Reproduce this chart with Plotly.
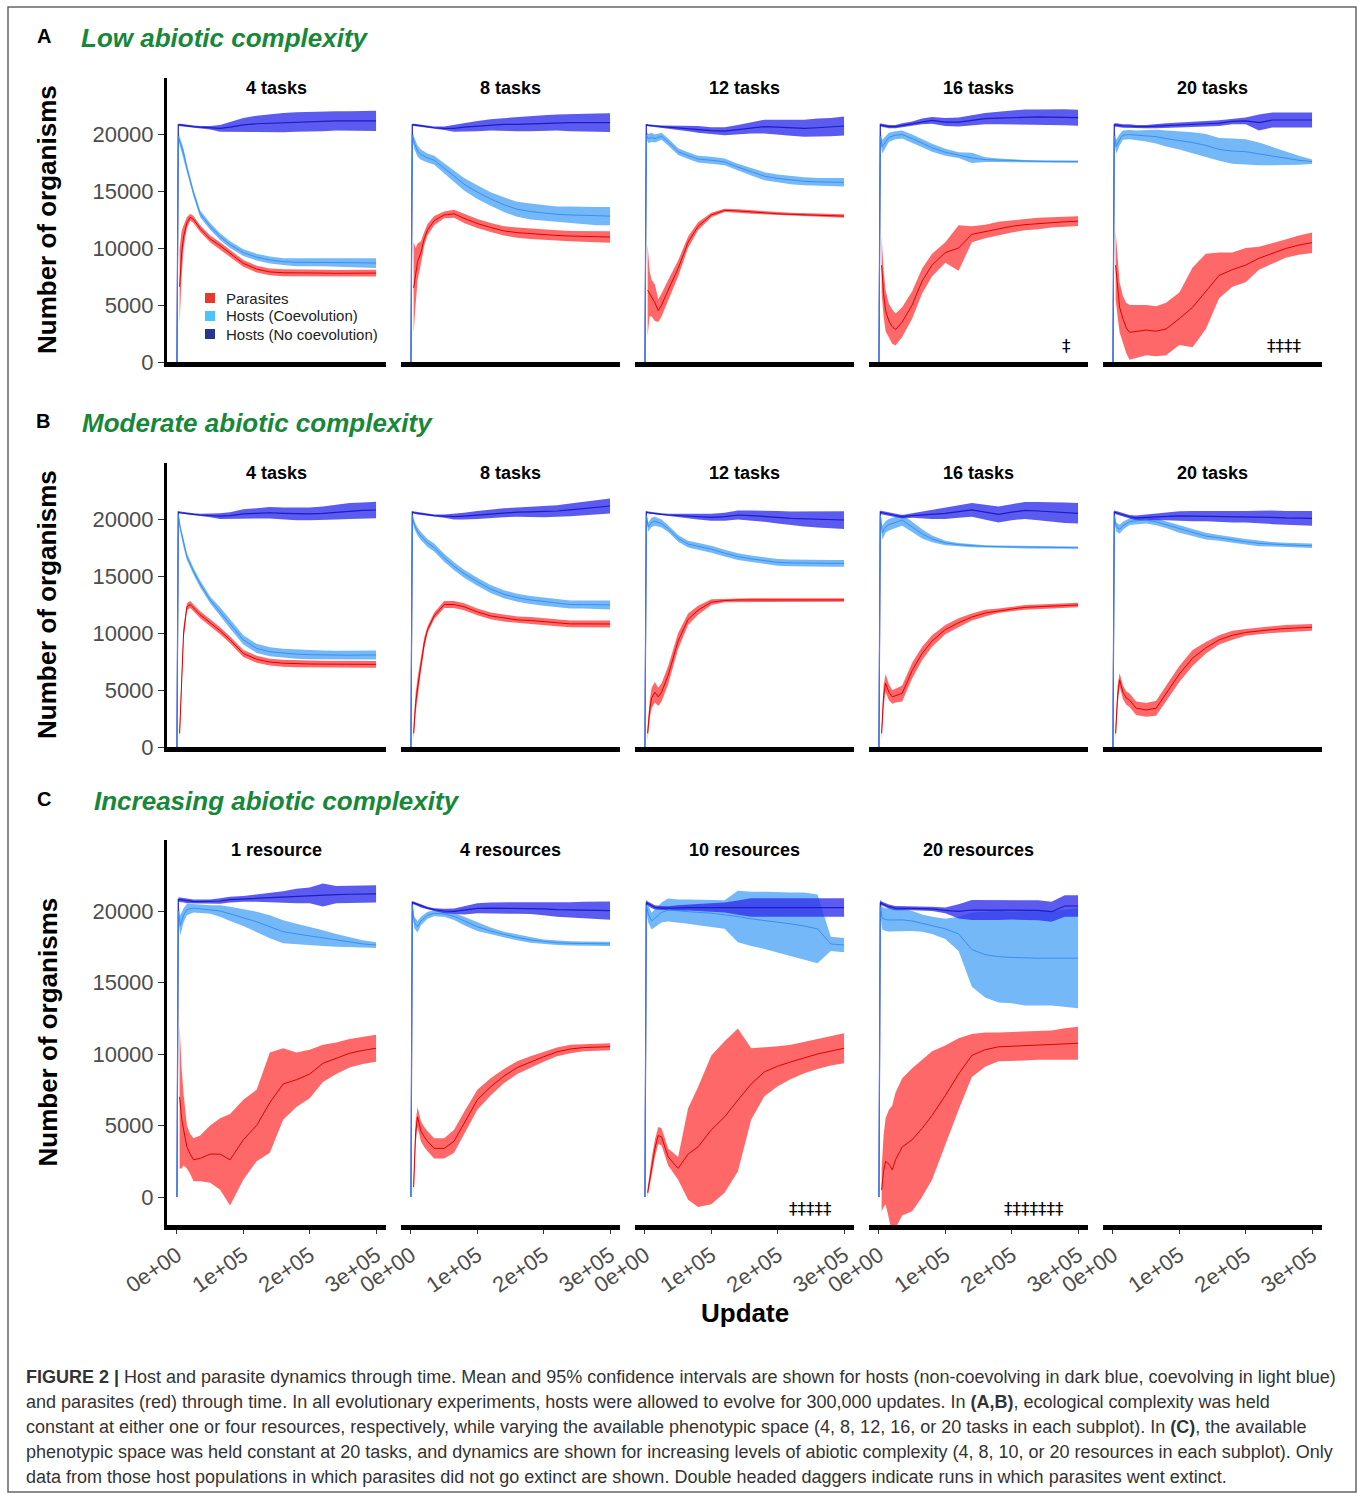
import plotly.graph_objects as go

# ---------------- DATA (updates in thousands; values = number of organisms) -------------
HOST_UPDATES = [0, 2, 5, 10, 15, 25, 35, 50, 65, 80, 100, 120, 140, 160, 180, 200, 220, 240, 260, 280, 300]
PARA_UPDATES = [4, 7, 10, 15, 20, 25, 35, 50, 65, 80, 100, 120, 140, 160, 180, 200, 220, 240, 260, 280, 300]

X_TICKS = [0, 100000, 200000, 300000]
X_TICK_LABELS = ["0e+00", "1e+05", "2e+05", "3e+05"]
Y_TICKS = [0, 5000, 10000, 15000, 20000]
Y_TICK_LABELS = ["0", "5000", "10000", "15000", "20000"]

ROW_TITLES = ["Low abiotic complexity", "Moderate abiotic complexity", "Increasing abiotic complexity"]
ROW_LETTERS = ["A", "B", "C"]
PANEL_TITLES_A = ["4 tasks", "8 tasks", "12 tasks", "16 tasks", "20 tasks"]
PANEL_TITLES_B = ["4 tasks", "8 tasks", "12 tasks", "16 tasks", "20 tasks"]
PANEL_TITLES_C = ["1 resource", "4 resources", "10 resources", "20 resources", ""]
LEGEND_LABELS = ["Parasites", "Hosts (Coevolution)", "Hosts (No coevolution)"]

# ---- Row A ----
A1_NC = [0, 20800, 20800, 20750, 20700, 20650, 20600, 20550, 20500, 20600, 20800, 20900, 20950, 21000, 21050, 21100, 21100, 21150, 21150, 21150, 21150]
A1_NC_HW = [0, 100, 100, 100, 100, 100, 100, 150, 300, 450, 600, 700, 800, 850, 850, 850, 850, 850, 850, 850, 880]
A1_CO = [0, 19800, 19200, 18300, 17000, 14800, 13000, 11900, 11000, 10300, 9600, 9200, 8950, 8800, 8750, 8750, 8750, 8720, 8700, 8700, 8680]
A1_CO_HW = [0, 300, 400, 400, 350, 300, 300, 300, 300, 300, 300, 300, 300, 300, 350, 350, 350, 350, 400, 400, 430]
A1_PA = [6600, 9500, 11000, 12200, 12700, 12500, 11700, 10800, 10200, 9500, 8650, 8150, 7900, 7830, 7800, 7800, 7800, 7780, 7800, 7800, 7800]
A1_PA_HW = [3300, 2000, 1000, 500, 300, 300, 300, 300, 300, 300, 300, 300, 300, 300, 300, 300, 300, 300, 300, 300, 300]

A2_NC = [0, 20800, 20800, 20750, 20700, 20600, 20550, 20500, 20500, 20600, 20700, 20800, 20850, 20850, 20900, 20950, 21000, 21000, 21000, 21000, 21000]
A2_NC_HW = [0, 100, 100, 100, 100, 100, 100, 150, 300, 400, 450, 500, 550, 600, 650, 700, 700, 750, 800, 800, 830]
A2_CO = [0, 19900, 19200, 18500, 18200, 17900, 17700, 17000, 16300, 15600, 14900, 14300, 13800, 13400, 13200, 13050, 12950, 12900, 12850, 12800, 12800]
A2_CO_HW = [0, 400, 500, 500, 450, 400, 400, 450, 500, 550, 600, 600, 650, 650, 700, 700, 700, 750, 750, 800, 800]
A2_PA = [6500, 7500, 8800, 9600, 10800, 11600, 12400, 12900, 13000, 12600, 12150, 11800, 11500, 11350, 11250, 11150, 11100, 11050, 11000, 11000, 10960]
A2_PA_HW = [4000, 2500, 1600, 1000, 600, 500, 400, 300, 350, 400, 400, 400, 400, 450, 450, 450, 450, 450, 500, 500, 500]

A3_NC = [0, 20800, 20750, 20700, 20700, 20650, 20600, 20550, 20500, 20400, 20300, 20250, 20400, 20550, 20650, 20600, 20550, 20500, 20550, 20600, 20700]
A3_NC_HW = [0, 100, 100, 100, 100, 100, 150, 200, 250, 300, 300, 350, 400, 500, 600, 650, 700, 750, 800, 800, 830]
A3_CO = [0, 19900, 19600, 19700, 19600, 19800, 19300, 18450, 18100, 17800, 17700, 17550, 17100, 16700, 16300, 16100, 15950, 15850, 15800, 15780, 15760]
A3_CO_HW = [0, 300, 400, 400, 350, 300, 300, 300, 300, 300, 300, 300, 300, 350, 350, 350, 350, 350, 350, 370, 370]
A3_PA = [6300, 6000, 5600, 5200, 4500, 5000, 6300, 8200, 10500, 11900, 12900, 13300, 13250, 13150, 13050, 13000, 12950, 12900, 12850, 12850, 12800]
A3_PA_HW = [4000, 2000, 1600, 1600, 1000, 1000, 900, 700, 500, 350, 200, 150, 150, 150, 150, 150, 150, 150, 150, 150, 150]

A4_NC = [0, 20800, 20750, 20700, 20650, 20650, 20750, 20900, 21100, 21200, 21050, 21050, 21200, 21350, 21400, 21450, 21500, 21500, 21480, 21460, 21430]
A4_NC_HW = [0, 150, 150, 150, 150, 150, 200, 200, 250, 300, 350, 400, 450, 500, 550, 600, 650, 650, 700, 700, 700]
A4_CO = [0, 19800, 18900, 19300, 19700, 19900, 19950, 19600, 19180, 18800, 18400, 18150, 17900, 17750, 17700, 17650, 17620, 17600, 17580, 17570, 17570]
A4_CO_HW = [0, 500, 600, 500, 400, 350, 350, 350, 350, 350, 300, 250, 450, 200, 150, 120, 100, 100, 100, 100, 100]
A4_PA = [8500, 6000, 4500, 3600, 3100, 2850, 3500, 5000, 7100, 8500, 9600, 10000, 11200, 11450, 11700, 11900, 12050, 12150, 12250, 12300, 12350]
A4_PA_HW = [2500, 2000, 1800, 1500, 1500, 1400, 1300, 1200, 1100, 1000, 900, 2000, 700, 600, 600, 550, 500, 500, 450, 450, 430]

A5_NC = [0, 20800, 20800, 20750, 20700, 20700, 20650, 20650, 20700, 20750, 20800, 20850, 20900, 20950, 21100, 21150, 21000, 21230, 21230, 21230, 21230]
A5_NC_HW = [0, 150, 150, 150, 150, 150, 150, 150, 200, 200, 200, 250, 250, 250, 250, 300, 700, 650, 650, 650, 650]
A5_CO = [0, 19800, 18900, 19500, 19900, 19950, 19900, 19850, 19770, 19600, 19450, 19250, 19000, 18650, 18500, 18450, 18250, 18050, 17850, 17700, 17570]
A5_CO_HW = [0, 500, 600, 500, 400, 400, 400, 500, 600, 700, 800, 900, 1000, 1000, 1100, 1100, 1000, 800, 600, 400, 200]
A5_PA = [8500, 6500, 4800, 3800, 3000, 2600, 2700, 2800, 2700, 2900, 3800, 4800, 6200, 7600, 8100, 8500, 9100, 9500, 9950, 10250, 10470]
A5_PA_HW = [3000, 2500, 2200, 2000, 2200, 2400, 2300, 2200, 2200, 2300, 2300, 3500, 3300, 2000, 1500, 1500, 1000, 900, 800, 850, 900]

# ---- Row B ----
B1_NC = [0, 20600, 20550, 20500, 20450, 20400, 20350, 20300, 20250, 20300, 20450, 20500, 20550, 20500, 20450, 20450, 20500, 20600, 20700, 20750, 20790]
B1_NC_HW = [0, 100, 100, 100, 100, 100, 100, 150, 250, 300, 400, 450, 500, 500, 550, 550, 600, 650, 700, 700, 730]
B1_CO = [0, 20400, 19200, 17800, 16700, 15400, 14300, 12900, 11900, 10800, 9400, 8650, 8350, 8220, 8150, 8100, 8070, 8050, 8050, 8070, 8070]
B1_CO_HW = [0, 300, 300, 300, 300, 300, 300, 300, 350, 400, 400, 400, 400, 400, 400, 400, 400, 400, 400, 400, 400]
B1_PA = [1200, 6000, 10000, 12300, 12500, 12200, 11600, 10900, 10200, 9400, 8200, 7700, 7450, 7350, 7300, 7280, 7270, 7250, 7250, 7250, 7250]
B1_PA_HW = [600, 800, 600, 300, 300, 300, 300, 300, 300, 300, 300, 300, 300, 300, 300, 300, 300, 300, 300, 300, 300]

B2_NC = [0, 20600, 20550, 20500, 20450, 20350, 20300, 20250, 20200, 20250, 20350, 20450, 20550, 20600, 20620, 20650, 20700, 20800, 20900, 21000, 21140]
B2_NC_HW = [0, 100, 100, 100, 100, 100, 100, 150, 250, 300, 350, 400, 400, 400, 450, 500, 500, 550, 600, 600, 650]
B2_CO = [0, 20300, 19500, 18900, 18500, 17900, 17500, 16600, 15850, 15200, 14500, 13850, 13400, 13100, 12900, 12750, 12600, 12500, 12500, 12480, 12460]
B2_CO_HW = [0, 300, 350, 350, 350, 350, 350, 350, 350, 350, 350, 350, 350, 350, 350, 350, 350, 350, 350, 350, 400]
B2_PA = [1200, 3800, 5200, 7300, 9100, 10300, 11500, 12500, 12500, 12300, 11850, 11500, 11300, 11150, 11100, 11000, 10900, 10800, 10800, 10800, 10790]
B2_PA_HW = [600, 900, 900, 700, 500, 300, 300, 300, 300, 300, 300, 300, 300, 300, 300, 300, 300, 300, 300, 300, 300]

B3_NC = [0, 20600, 20550, 20500, 20450, 20400, 20350, 20300, 20250, 20200, 20150, 20200, 20350, 20300, 20250, 20150, 20050, 20000, 19950, 19920, 19910]
B3_NC_HW = [0, 100, 100, 100, 100, 100, 100, 150, 200, 250, 300, 350, 400, 450, 500, 550, 600, 650, 700, 750, 780]
B3_CO = [0, 20300, 19300, 19700, 19800, 19600, 19150, 18300, 17800, 17600, 17350, 17000, 16700, 16500, 16350, 16200, 16150, 16120, 16110, 16110, 16110]
B3_CO_HW = [0, 400, 400, 400, 400, 350, 300, 300, 300, 300, 300, 300, 300, 300, 300, 300, 300, 300, 300, 300, 300]
B3_PA = [1200, 3200, 4300, 4800, 4400, 4800, 6300, 9300, 11200, 12000, 12700, 12850, 12900, 12900, 12900, 12900, 12900, 12900, 12900, 12900, 12900]
B3_PA_HW = [600, 800, 900, 900, 800, 800, 800, 700, 500, 400, 250, 150, 150, 150, 150, 150, 150, 150, 150, 150, 150]

B4_NC = [0, 20600, 20550, 20500, 20400, 20300, 20200, 20300, 20350, 20400, 20500, 20650, 20800, 20600, 20400, 20600, 20750, 20700, 20650, 20550, 20500]
B4_NC_HW = [0, 150, 150, 150, 150, 150, 150, 200, 300, 400, 500, 550, 600, 650, 700, 700, 750, 800, 850, 900, 900]
B4_CO = [0, 20300, 18800, 19300, 19500, 19700, 19900, 19300, 18700, 18250, 17900, 17750, 17650, 17600, 17570, 17550, 17520, 17500, 17490, 17480, 17480]
B4_CO_HW = [0, 500, 600, 500, 500, 500, 500, 450, 400, 300, 200, 150, 120, 100, 100, 100, 100, 100, 100, 100, 100]
B4_PA = [1200, 4500, 5600, 4800, 4400, 4500, 4700, 6700, 8200, 9300, 10300, 10900, 11400, 11750, 11950, 12100, 12250, 12300, 12350, 12400, 12460]
B4_PA_HW = [600, 900, 800, 700, 600, 600, 700, 700, 600, 500, 400, 400, 300, 300, 200, 200, 200, 200, 200, 200, 200]

B5_NC = [0, 20600, 20550, 20450, 20350, 20200, 20100, 20150, 20200, 20250, 20270, 20260, 20250, 20230, 20200, 20200, 20180, 20150, 20100, 20080, 20060]
B5_NC_HW = [0, 150, 150, 150, 150, 150, 200, 250, 300, 350, 400, 450, 450, 450, 500, 500, 550, 600, 600, 650, 650]
B5_CO = [0, 20300, 19300, 19100, 19400, 19770, 19850, 19900, 19750, 19500, 19100, 18800, 18500, 18350, 18160, 18000, 17860, 17780, 17720, 17680, 17660]
B5_CO_HW = [0, 400, 400, 400, 350, 300, 300, 300, 300, 300, 300, 300, 300, 250, 250, 250, 250, 200, 200, 200, 200]
B5_PA = [1200, 4500, 5900, 4800, 4300, 4100, 3400, 3250, 3400, 4700, 6400, 7800, 8700, 9400, 9800, 10050, 10200, 10300, 10400, 10450, 10500]
B5_PA_HW = [600, 900, 600, 600, 600, 600, 600, 600, 650, 700, 700, 700, 500, 400, 400, 300, 300, 300, 300, 300, 300]

# ---- Row C ----
C1_NC = [0, 20800, 20800, 20750, 20700, 20650, 20650, 20650, 20700, 20800, 20850, 20900, 20950, 20980, 21050, 21100, 21120, 21150, 21170, 21200, 21200]
C1_NC_HW = [0, 150, 150, 150, 150, 150, 150, 150, 200, 200, 200, 250, 300, 400, 500, 550, 800, 600, 600, 600, 600]
C1_CO = [0, 20000, 19000, 19700, 20100, 20200, 20150, 20100, 20000, 19800, 19550, 19250, 18900, 18550, 18400, 18250, 18100, 17950, 17800, 17700, 17620]
C1_CO_HW = [0, 600, 700, 500, 400, 300, 300, 300, 400, 500, 600, 700, 800, 800, 700, 650, 550, 450, 350, 250, 200]
C1_PA = [7000, 5500, 4700, 3500, 3000, 2600, 2700, 3000, 3000, 2600, 4000, 5000, 6600, 7900, 8200, 8600, 9350, 9700, 10050, 10250, 10400]
C1_PA_HW = [5000, 3500, 2500, 1500, 1400, 1500, 1600, 2000, 2500, 3200, 2800, 2500, 3500, 2500, 1900, 1700, 1300, 1100, 1000, 950, 950]

C2_NC = [0, 20600, 20550, 20450, 20350, 20200, 20100, 20000, 19980, 20050, 20190, 20200, 20200, 20200, 20190, 20150, 20100, 20070, 20050, 20040, 20030]
C2_NC_HW = [0, 100, 100, 100, 100, 100, 100, 150, 200, 300, 350, 400, 400, 400, 400, 450, 500, 550, 600, 600, 640]
C2_CO = [0, 20400, 19200, 18900, 19300, 19700, 19840, 19800, 19620, 19300, 18900, 18600, 18350, 18150, 17980, 17860, 17780, 17740, 17720, 17700, 17700]
C2_CO_HW = [0, 300, 400, 400, 300, 250, 200, 200, 250, 300, 300, 250, 200, 200, 200, 150, 150, 150, 150, 150, 150]
C2_PA = [700, 4500, 5600, 4600, 4200, 3900, 3400, 3400, 3900, 5150, 6800, 7700, 8450, 9050, 9450, 9810, 10150, 10350, 10450, 10500, 10510]
C2_PA_HW = [500, 800, 700, 700, 700, 700, 700, 700, 800, 800, 700, 600, 500, 450, 400, 350, 300, 300, 250, 250, 250]

C3_NC = [0, 20600, 20500, 20350, 20250, 20200, 20190, 20210, 20230, 20240, 20240, 20240, 20240, 20240, 20240, 20240, 20240, 20240, 20240, 20240, 20240]
C3_NC_HW = [0, 150, 150, 150, 150, 150, 150, 200, 200, 250, 300, 350, 500, 650, 650, 650, 650, 650, 650, 650, 650]
C3_CO = [0, 20400, 19800, 19300, 19500, 19900, 20070, 20000, 19950, 19900, 19850, 19750, 19610, 19450, 19350, 19200, 19100, 18950, 18750, 17700, 17620]
C3_CO_HW = [0, 400, 600, 600, 600, 700, 800, 800, 850, 900, 950, 1000, 1800, 1900, 2000, 2100, 2200, 2350, 2400, 500, 500]
C3_PA = [300, 1200, 2100, 3400, 4300, 4200, 2800, 2000, 3000, 3500, 4700, 5600, 6780, 7900, 8750, 9150, 9450, 9750, 10000, 10200, 10400]
C3_PA_HW = [300, 500, 600, 600, 600, 600, 600, 800, 3200, 4200, 5200, 5300, 5000, 2500, 1700, 1400, 1200, 1100, 1050, 1000, 1050]

C4_NC = [0, 20600, 20500, 20400, 20300, 20200, 20200, 20200, 20190, 20150, 20050, 19970, 20070, 20070, 20070, 20100, 20100, 20050, 19950, 20350, 20350]
C4_NC_HW = [0, 150, 150, 150, 150, 150, 150, 150, 150, 150, 200, 500, 700, 700, 700, 700, 700, 700, 700, 750, 750]
C4_CO = [0, 20300, 19500, 19400, 19370, 19400, 19380, 19300, 19150, 19000, 18750, 18400, 17300, 16950, 16810, 16750, 16700, 16700, 16700, 16700, 16700]
C4_CO_HW = [0, 500, 800, 800, 800, 800, 800, 700, 600, 600, 700, 1200, 2600, 3000, 3200, 3200, 3300, 3300, 3300, 3400, 3500]
C4_PA = [500, 1800, 2500, 2300, 1900, 2600, 3500, 4000, 4800, 5700, 7100, 8600, 9900, 10300, 10500, 10550, 10550, 10600, 10650, 10700, 10750]
C4_PA_HW = [1500, 2500, 3000, 3800, 4500, 4700, 4800, 5000, 4800, 4500, 3500, 2500, 1500, 1200, 1000, 1000, 1000, 1000, 1000, 1100, 1150]

DAGGERS = {(0, 3): "‡", (0, 4): "‡‡‡‡", (2, 2): "‡‡‡‡‡", (2, 3): "‡‡‡‡‡‡‡"}

PANELS = {
    (0, 0): (A1_NC, A1_NC_HW, A1_CO, A1_CO_HW, A1_PA, A1_PA_HW),
    (0, 1): (A2_NC, A2_NC_HW, A2_CO, A2_CO_HW, A2_PA, A2_PA_HW),
    (0, 2): (A3_NC, A3_NC_HW, A3_CO, A3_CO_HW, A3_PA, A3_PA_HW),
    (0, 3): (A4_NC, A4_NC_HW, A4_CO, A4_CO_HW, A4_PA, A4_PA_HW),
    (0, 4): (A5_NC, A5_NC_HW, A5_CO, A5_CO_HW, A5_PA, A5_PA_HW),
    (1, 0): (B1_NC, B1_NC_HW, B1_CO, B1_CO_HW, B1_PA, B1_PA_HW),
    (1, 1): (B2_NC, B2_NC_HW, B2_CO, B2_CO_HW, B2_PA, B2_PA_HW),
    (1, 2): (B3_NC, B3_NC_HW, B3_CO, B3_CO_HW, B3_PA, B3_PA_HW),
    (1, 3): (B4_NC, B4_NC_HW, B4_CO, B4_CO_HW, B4_PA, B4_PA_HW),
    (1, 4): (B5_NC, B5_NC_HW, B5_CO, B5_CO_HW, B5_PA, B5_PA_HW),
    (2, 0): (C1_NC, C1_NC_HW, C1_CO, C1_CO_HW, C1_PA, C1_PA_HW),
    (2, 1): (C2_NC, C2_NC_HW, C2_CO, C2_CO_HW, C2_PA, C2_PA_HW),
    (2, 2): (C3_NC, C3_NC_HW, C3_CO, C3_CO_HW, C3_PA, C3_PA_HW),
    (2, 3): (C4_NC, C4_NC_HW, C4_CO, C4_CO_HW, C4_PA, C4_PA_HW),
}

CAPTION_LINES = [
    "<b>FIGURE 2 |</b> Host and parasite dynamics through time. Mean and 95% confidence intervals are shown for hosts (non-coevolving in dark blue, coevolving in light blue)",
    "and parasites (red) through time. In all evolutionary experiments, hosts were allowed to evolve for 300,000 updates. In <b>(A,B)</b>, ecological complexity was held",
    "constant at either one or four resources, respectively, while varying the available phenotypic space (4, 8, 12, 16, or 20 tasks in each subplot). In <b>(C)</b>, the available",
    "phenotypic space was held constant at 20 tasks, and dynamics are shown for increasing levels of abiotic complexity (4, 8, 10, or 20 resources in each subplot). Only",
    "data from those host populations in which parasites did not go extinct are shown. Double headed daggers indicate runs in which parasites went extinct.",
]

# ---------------- STYLE / LAYOUT ----------------
W, H = 1358, 1494
FONT = "Liberation Sans, Arial, sans-serif"
COL_LEFT = [167, 401, 635, 869, 1103]
COL_W = 219
ROW_TB = [(78, 362), (463, 747), (840, 1225)]
Y_RANGES = [[0, 24912], [0, 24912], [-1958, 24965]]
X_RANGE = [-15000, 315000]

STYLE = {
    "CO": dict(fill="rgba(70,160,245,0.75)", line="#3a8ff0", w=1.0),
    "NC": dict(fill="rgba(50,50,235,0.80)", line="#1c1cc8", w=1.2),
    "PA": dict(fill="rgba(255,40,40,0.70)", line="#e00000", w=1.0),
}


def px(x):
    return x / W


def py(y):
    return 1 - y / H


fig = go.Figure()
layout = {}


def band(xk, mean, hw, key, xa, ya):
    assert len(xk) == len(mean) == len(hw), (key, len(mean), len(hw))
    xs = [v * 1000 for v in xk]
    hi = [m + h for m, h in zip(mean, hw)]
    lo = [m - h for m, h in zip(mean, hw)]
    st = STYLE[key]
    fig.add_trace(go.Scatter(x=xs + xs[::-1], y=hi + lo[::-1], fill="toself",
                             fillcolor=st["fill"], line=dict(width=0), mode="lines",
                             hoverinfo="skip", showlegend=False, xaxis=xa, yaxis=ya))


def mean_line(xk, mean, key, xa, ya):
    st = STYLE[key]
    fig.add_trace(go.Scatter(x=[v * 1000 for v in xk], y=mean, mode="lines",
                             line=dict(color=st["line"], width=st["w"]),
                             showlegend=False, xaxis=xa, yaxis=ya))


titles = [PANEL_TITLES_A, PANEL_TITLES_B, PANEL_TITLES_C]
annotations = []

for r in range(3):
    top, bot = ROW_TB[r]
    for c in range(5):
        i = r * 5 + c + 1
        sfx = "" if i == 1 else str(i)
        xa, ya = "x" + sfx, "y" + sfx
        left = COL_LEFT[c]
        layout["xaxis" + sfx] = dict(
            domain=[px(left), px(left + COL_W)], range=X_RANGE, anchor=ya,
            showgrid=False, zeroline=False, showline=True, linecolor="black", linewidth=4.5,
            tickvals=X_TICKS, ticktext=X_TICK_LABELS, automargin=False,
            showticklabels=(r == 2), ticks=("outside" if r == 2 else ""), ticklen=4,
            tickcolor="#333333", tickangle=-35,
            tickfont=dict(family=FONT, size=22, color="#4d4d4d"))
        layout["yaxis" + sfx] = dict(
            domain=[py(bot), py(top)], range=Y_RANGES[r], anchor=xa, automargin=False,
            showgrid=False, zeroline=False, showline=(c == 0), linecolor="black", linewidth=3,
            tickvals=Y_TICKS, ticktext=Y_TICK_LABELS, showticklabels=(c == 0),
            ticks=("outside" if c == 0 else ""), ticklen=6, tickcolor="#333333",
            tickfont=dict(family=FONT, size=22, color="#4d4d4d"))
        if (r, c) in PANELS:
            nc, nch, co, coh, pa, pah = PANELS[(r, c)]
            band(HOST_UPDATES, co, coh, "CO", xa, ya)
            band(HOST_UPDATES, nc, nch, "NC", xa, ya)
            band(PARA_UPDATES, pa, pah, "PA", xa, ya)
            mean_line(HOST_UPDATES, nc, "NC", xa, ya)
            mean_line(HOST_UPDATES, co, "CO", xa, ya)
            mean_line(PARA_UPDATES, pa, "PA", xa, ya)
        else:
            # empty facet: an empty trace so that its axes are still drawn
            fig.add_trace(go.Scatter(x=[], y=[], mode="lines", showlegend=False,
                                     hoverinfo="skip", xaxis=xa, yaxis=ya))
        t = titles[r][c]
        if t:
            annotations.append(dict(x=px(left + COL_W / 2), y=py(top + 10), xref="paper", yref="paper",
                                    text="<b>" + t + "</b>", showarrow=False, xanchor="center",
                                    yanchor="middle", font=dict(family=FONT, size=18, color="black")))
        if (r, c) in DAGGERS:
            d = DAGGERS[(r, c)]
            cx = left + 203 - len(d) * 5.5
            annotations.append(dict(x=px(cx), y=py(bot - 16), xref="paper", yref="paper",
                                    text=d, showarrow=False, xanchor="center", yanchor="middle",
                                    font=dict(family="DejaVu Sans, sans-serif", size=17, color="black")))
    # y-axis title
    annotations.append(dict(x=px(47), y=py((top + bot) / 2), xref="paper", yref="paper",
                            text="<b>Number of organisms</b>", showarrow=False, textangle=-90,
                            xanchor="center", yanchor="middle",
                            font=dict(family=FONT, size=26, color="black")))

# Section headings
HEAD_Y = [36, 421, 799]
HEAD_LETTER_X = [44, 43, 44]
HEAD_TITLE_X = [79, 80, 92]
for r in range(3):
    annotations.append(dict(x=px(HEAD_LETTER_X[r]), y=py(HEAD_Y[r]), xref="paper", yref="paper",
                            text="<b>" + ROW_LETTERS[r] + "</b>", showarrow=False, xanchor="center",
                            yanchor="middle", font=dict(family=FONT, size=20, color="black")))
    annotations.append(dict(x=px(HEAD_TITLE_X[r]), y=py(HEAD_Y[r] + 2), xref="paper", yref="paper",
                            text="<b><i>" + ROW_TITLES[r] + "</i></b>", showarrow=False, xanchor="left",
                            yanchor="middle", font=dict(family=FONT, size=26, color="#17873a")))

# x-axis title
annotations.append(dict(x=px(745), y=py(1313), xref="paper", yref="paper", text="<b>Update</b>",
                        showarrow=False, xanchor="center", yanchor="middle",
                        font=dict(family=FONT, size=26, color="black")))

# Legend (drawn inside panel A1)
LEG_COLORS = ["#e8372d", "#4fc3f7", "#283593"]
LEG_Y = [298, 316, 334]
shapes = []
for lab, col, ly in zip(LEGEND_LABELS, LEG_COLORS, LEG_Y):
    shapes.append(dict(type="rect", xref="paper", yref="paper", x0=px(205), x1=px(215),
                       y0=py(ly + 5), y1=py(ly - 5), fillcolor=col, line=dict(width=0)))
    annotations.append(dict(x=px(224), y=py(ly), xref="paper", yref="paper", text=lab,
                            showarrow=False, xanchor="left", yanchor="middle",
                            font=dict(family=FONT, size=15, color="#222222")))

# Caption
CAP_Y = [1377, 1402, 1427, 1452, 1477]
for txt, cy in zip(CAPTION_LINES, CAP_Y):
    annotations.append(dict(x=px(24), y=py(cy), xref="paper", yref="paper", text=txt,
                            showarrow=False, xanchor="left", yanchor="middle",
                            font=dict(family=FONT, size=18, color="#333333")))

# Outer frame
shapes.append(dict(type="rect", xref="paper", yref="paper", x0=px(8), x1=px(1356),
                   y0=py(1492), y1=py(7), line=dict(color="#666666", width=1.5),
                   fillcolor="rgba(0,0,0,0)"))

fig.update_layout(
    width=W, height=H, margin=dict(l=0, r=0, t=0, b=0, pad=0, autoexpand=False),
    paper_bgcolor="white", plot_bgcolor="white", showlegend=False,
    annotations=annotations, shapes=shapes, font=dict(family=FONT), **layout)

fig.write_html("out.html", config={"displayModeBar": False},
               post_script="document.body.style.margin='0px';")
